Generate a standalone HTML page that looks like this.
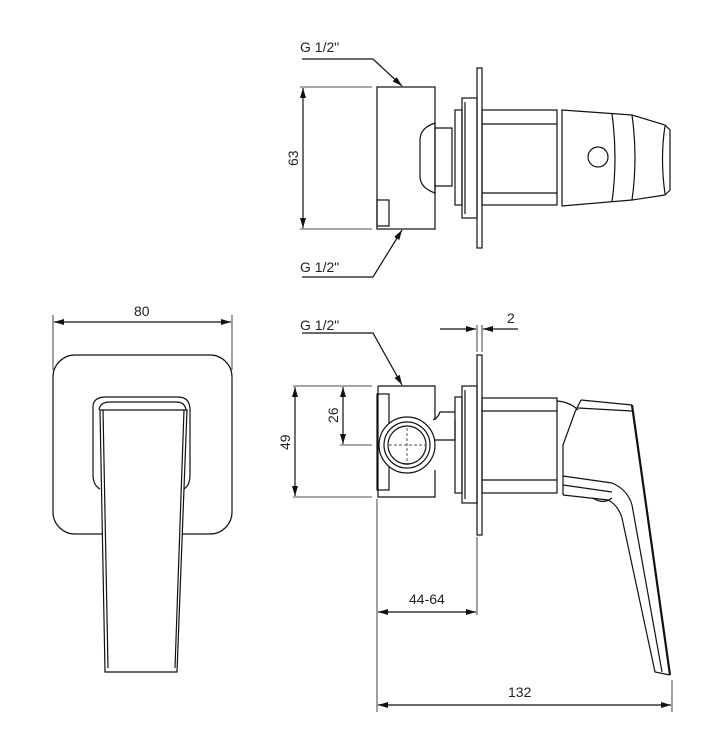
<!DOCTYPE html>
<html><head><meta charset="utf-8"><style>
html,body{margin:0;padding:0;background:#fff}
svg{display:block}
text{font-family:"Liberation Sans",sans-serif;font-size:14px;fill:#222}
</style></head><body>
<svg width="716" height="741" viewBox="0 0 716 741" xmlns="http://www.w3.org/2000/svg">
<defs>
<marker id="a" viewBox="0 0 10 6" refX="10" refY="3" markerWidth="10" markerHeight="6" orient="auto-start-reverse" markerUnits="userSpaceOnUse"><path d="M0,0 L10,3 L0,6 z" fill="#111"/></marker>
</defs>
<g fill="none" stroke="#111" stroke-width="1.2">
<!-- TOP VIEW -->
<text x="300" y="52" stroke="none" transform="scale(1,1)">G 1/2"</text>
<path d="M302 59 H373 L402 86" marker-end="url(#a)"/>
<rect x="377" y="87" width="58" height="142"/>
<rect x="377" y="200" width="12" height="26"/>
<path d="M300 87 H372 M300 229 H372" stroke-width="0.8"/>
<path d="M303 88 V228" marker-start="url(#a)" marker-end="url(#a)"/>
<text x="0" y="0" stroke="none" transform="translate(298,166) rotate(-90)">63</text>
<path d="M402 230 L373 277 H302" marker-start="url(#a)"/>
<text x="300" y="272" stroke="none">G 1/2"</text>
<path d="M435 123 Q420 128 420 140 V176 Q420 188 435 193 Z"/>
<path d="M435 128 H452 V186 H435"/>
<rect x="455" y="110" width="7" height="95"/>
<rect x="462" y="98" width="15" height="120"/>
<path d="M465 102 V214"/>
<rect x="477" y="68" width="5" height="180"/>
<rect x="482" y="110" width="75" height="95"/>
<path d="M482 124 H557 M482 193 H557"/>
<path d="M562 110 L632 115 L665 125 L670 130 V190 L665 195 L632 200 L562 206 Z"/>
<path d="M612 114 Q618 158 612 202 M632 115 Q638 158 632 200 M665 126 Q660 158 665 194"/>
<circle cx="598" cy="157" r="10"/>
<!-- FRONT VIEW -->
<path d="M53 315 V370 M232 315 V370" stroke-width="0.8"/>
<path d="M54 322 H231" marker-start="url(#a)" marker-end="url(#a)"/>
<text x="134" y="316" stroke="none">80</text>
<rect x="53" y="355" width="179" height="179" rx="22"/>
<path d="M100 489 Q93 485 93 475 V407 Q93 397 106 397 H178 Q190 397 190 410 V475 Q190 485 184 489" fill="#fff"/>
<path d="M99 410 Q100 402 110 402 H176 Q185 402 186 410"/>
<path d="M100 410 L105 672 H177 L187 410 Z" fill="#fff"/>
<path d="M103 410 L108 668 M184 410 L175 668"/>
<!-- SIDE VIEW -->
<text x="300" y="330" stroke="none">G 1/2"</text>
<path d="M302 333 H373 L402 385" marker-end="url(#a)"/>
<path d="M378 386 H435 V420 M378 386 V497 H389 M435 470 V497 H389" />
<rect x="377" y="394" width="12" height="96"/>
<path d="M293 386 H372 M293 497 H372 M340 445 H372" stroke-width="0.8"/>
<path d="M295 387 V496" marker-start="url(#a)" marker-end="url(#a)"/>
<path d="M343 387 V444" marker-start="url(#a)" marker-end="url(#a)"/>
<text x="0" y="0" stroke="none" transform="translate(290,450) rotate(-90)">49</text>
<text x="0" y="0" stroke="none" transform="translate(338,423) rotate(-90)">26</text>
<circle cx="407" cy="445" r="28" fill="#fff"/>
<circle cx="407" cy="445" r="23"/>
<circle cx="407" cy="445" r="19"/>
<path d="M389 445 H425 M407 428 V465" stroke-dasharray="3 2" stroke-width="0.7"/>
<path d="M433 420 Q438 418 440 412 H455 M435 440 H455 M455 420 V440"/>
<rect x="455" y="397" width="7" height="96"/>
<rect x="462" y="386" width="15" height="117"/>
<path d="M465 390 V499"/>
<rect x="477" y="355" width="5" height="180"/>
<path d="M477 325 V352 M482 325 V352" stroke-width="0.8"/>
<path d="M440 329 H476" marker-end="url(#a)"/>
<path d="M483 329 H518" marker-start="url(#a)"/>
<text x="507" y="323" stroke="none">2</text>
<rect x="482" y="398" width="75" height="95"/>
<path d="M482 411 H557 M482 480 H557"/>
<path d="M557 401 Q570 402 578 410"/>
<path d="M581 400 L632 405 M578 408 L632 411 M581 400 L575 412 L563 445 V495"/>
<path d="M632 405 L670 675" stroke-width="2.2"/>
<path d="M563 476 L612 483 Q628 490 632 505 L662 672 M563 485 L612 492 M563 495 L608 500 Q618 505 622 518 L655 672 L670 675"/>
<path d="M593 498 Q603 505 612 498"/>
<path d="M377 499 V712 M477 537 V615 M672 680 V712" stroke-width="0.8"/>
<path d="M378 612 H476" marker-start="url(#a)" marker-end="url(#a)"/>
<text x="409" y="604" stroke="none">44-64</text>
<path d="M378 705 H671" marker-start="url(#a)" marker-end="url(#a)"/>
<text x="508" y="697" stroke="none">132</text>
</g>
</svg>
</body></html>
